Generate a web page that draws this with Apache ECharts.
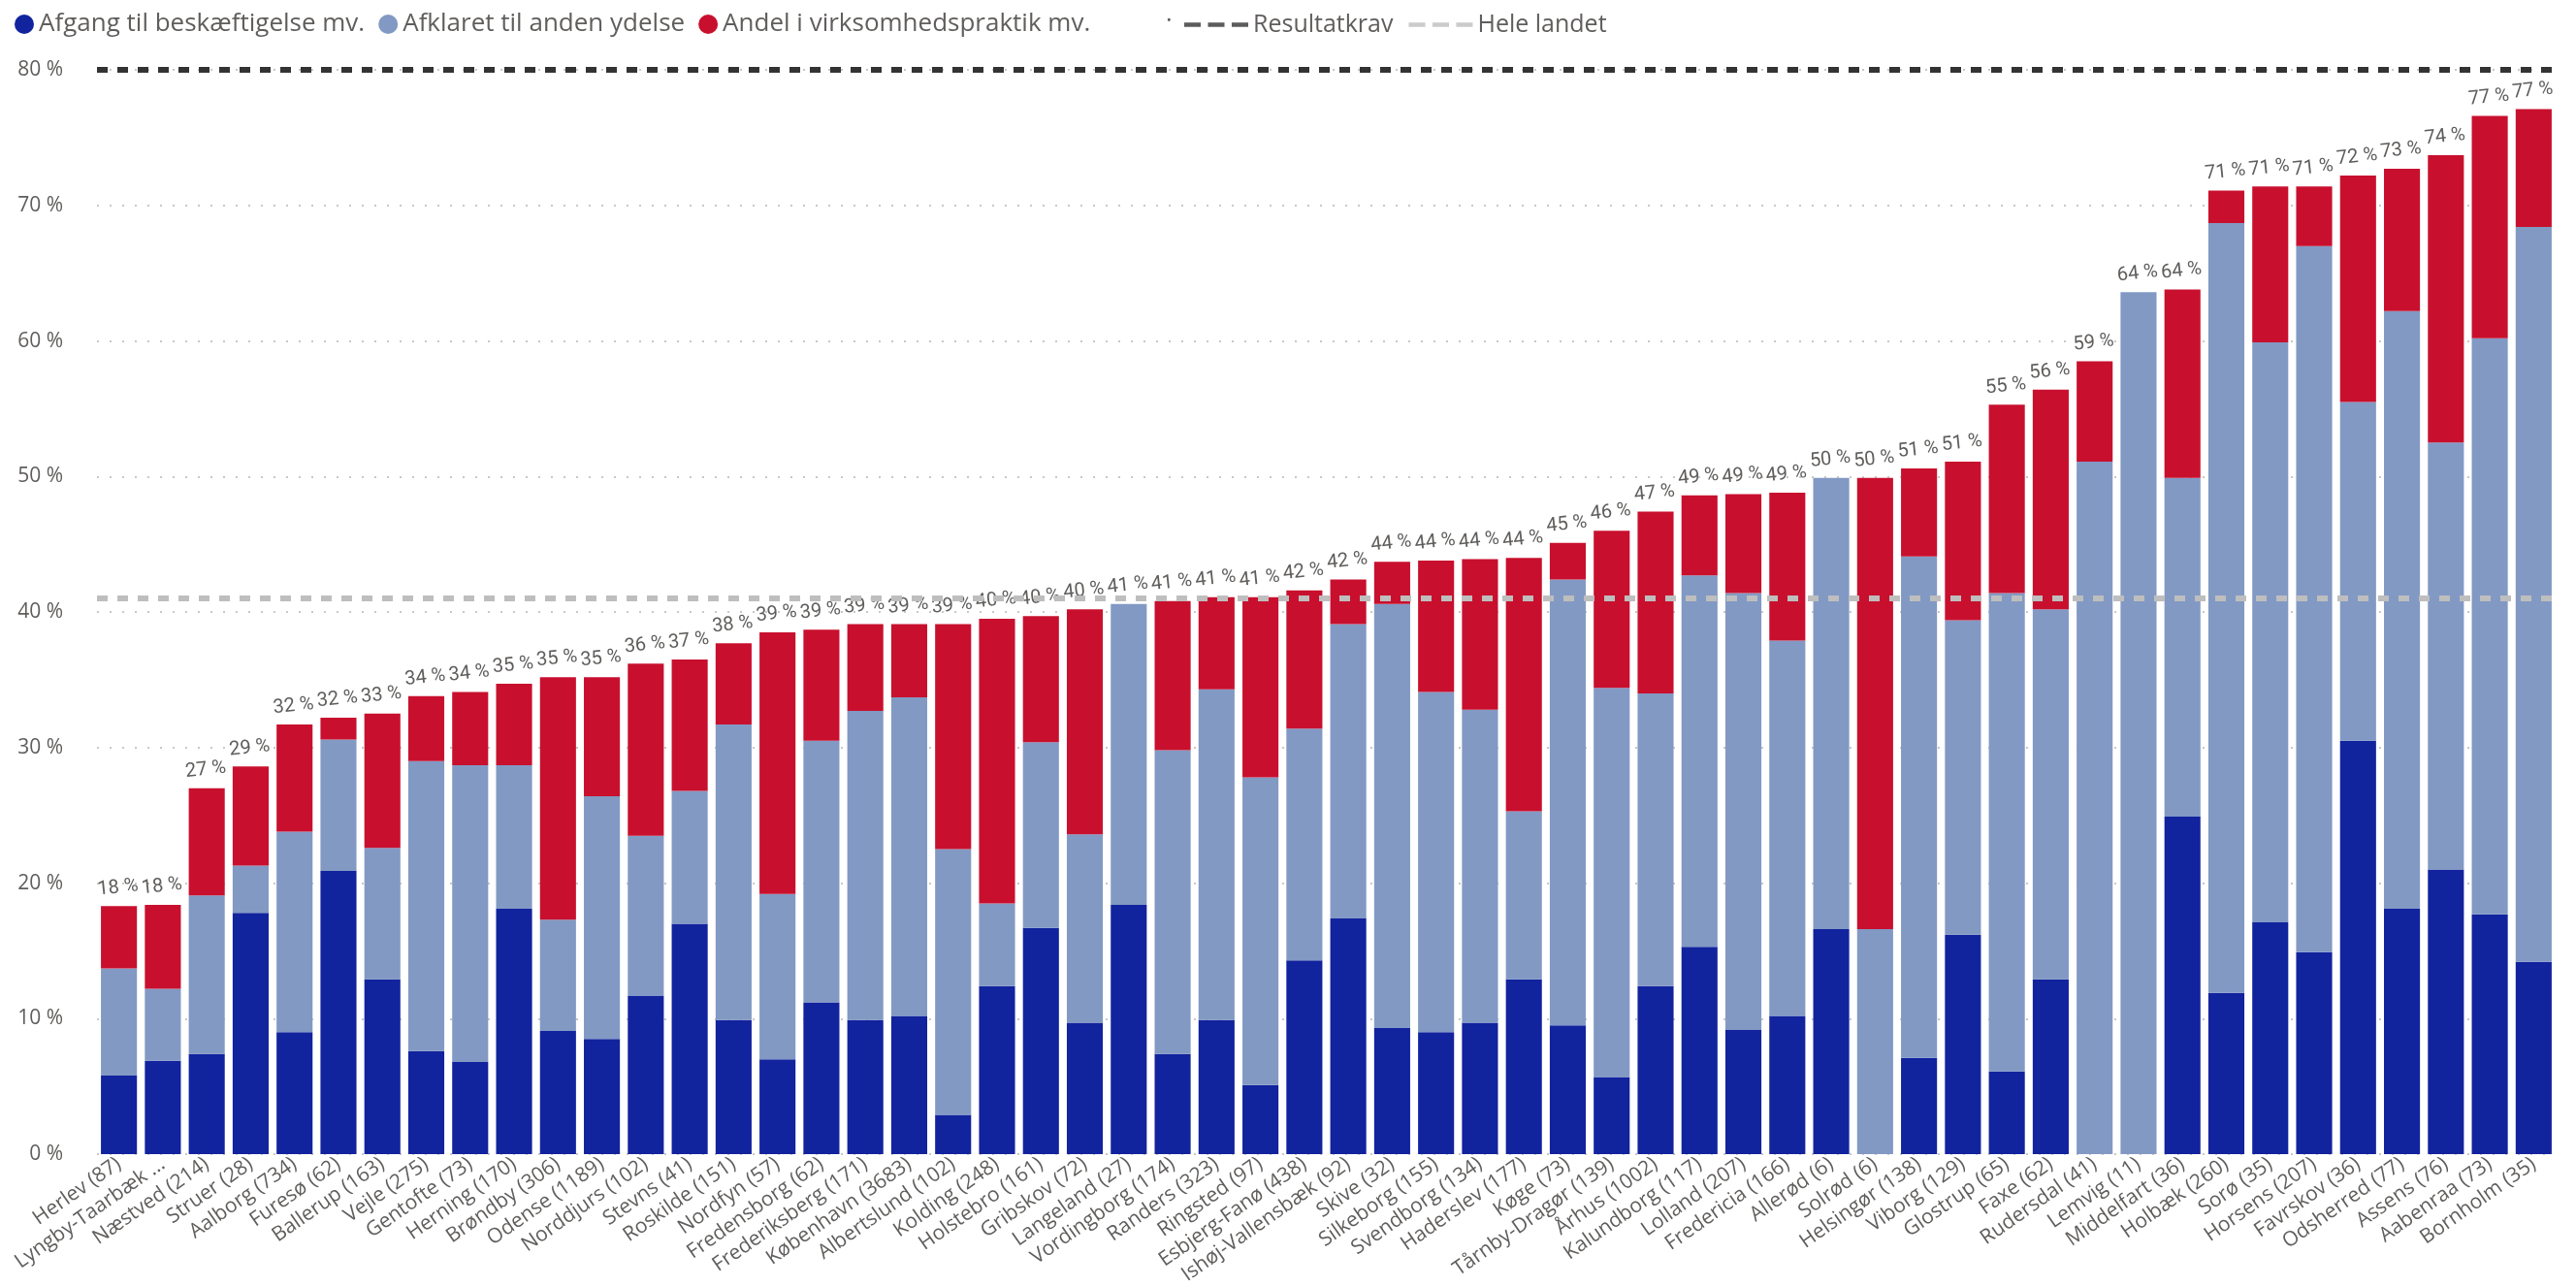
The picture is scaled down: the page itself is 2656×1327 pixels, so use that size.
<!DOCTYPE html>
<html>
<head>
<meta charset="utf-8">
<script src="https://cdn.jsdelivr.net/npm/echarts@6/dist/echarts.min.js"></script>
<style>
  html, body { margin: 0; padding: 0; background: #fff; }
  #chart { width: 2656px; height: 1327px; }
</style>
</head>
<body>
<div id="chart"></div>
<script>
const categories = [
  'Herlev (87)', 'Lyngby-Taarbæk ...', 'Næstved (214)', 'Struer (28)', 'Aalborg (734)',
  'Furesø (62)', 'Ballerup (163)', 'Vejle (275)', 'Gentofte (73)', 'Herning (170)',
  'Brøndby (306)', 'Odense (1189)', 'Norddjurs (102)', 'Stevns (41)', 'Roskilde (151)',
  'Nordfyn (57)', 'Fredensborg (62)', 'Frederiksberg (171)', 'København (3683)', 'Albertslund (102)',
  'Kolding (248)', 'Holstebro (161)', 'Gribskov (72)', 'Langeland (27)', 'Vordingborg (174)',
  'Randers (323)', 'Ringsted (97)', 'Esbjerg-Fanø (438)', 'Ishøj-Vallensbæk (92)', 'Skive (32)',
  'Silkeborg (155)', 'Svendborg (134)', 'Haderslev (177)', 'Køge (73)', 'Tårnby-Dragør (139)',
  'Århus (1002)', 'Kalundborg (117)', 'Lolland (207)', 'Fredericia (166)', 'Allerød (6)',
  'Solrød (6)', 'Helsingør (138)', 'Viborg (129)', 'Glostrup (65)', 'Faxe (62)',
  'Rudersdal (41)', 'Lemvig (11)', 'Middelfart (36)', 'Holbæk (260)', 'Sorø (35)',
  'Horsens (207)', 'Favrskov (36)', 'Odsherred (77)', 'Assens (76)', 'Aabenraa (73)',
  'Bornholm (35)'
]

// segment heights in percent
const afgang = [
  5.8, 6.9, 7.4, 17.8, 9.0, 20.9, 12.9, 7.6, 6.8, 18.1,
  9.1, 8.5, 11.7, 17.0, 9.9, 7.0, 11.2, 9.9, 10.2, 2.9,
  12.4, 16.7, 9.7, 18.4, 7.4, 9.9, 5.1, 14.3, 17.4, 9.3,
  9.0, 9.7, 12.9, 9.5, 5.7, 12.4, 15.3, 9.2, 10.2, 16.6,
  0, 7.1, 16.2, 6.1, 12.9, 0, 0, 24.9, 11.9, 17.1,
  14.9, 30.5, 18.1, 21.0, 17.7, 14.2
]
const afklaret = [
  7.9, 5.3, 11.7, 3.5, 14.8, 9.7, 9.7, 21.4, 21.9, 10.6,
  8.2, 17.9, 11.8, 9.8, 21.8, 12.2, 19.3, 22.8, 23.5, 19.6,
  6.1, 13.7, 13.9, 22.2, 22.4, 24.4, 22.7, 17.1, 21.7, 31.3,
  25.1, 23.1, 12.4, 32.9, 28.7, 21.6, 27.4, 32.2, 27.7, 33.3,
  16.6, 37.0, 23.2, 35.3, 27.3, 51.1, 63.6, 25.0, 56.8, 42.8,
  52.1, 25.0, 44.1, 31.5, 42.5, 54.2
]
const praktik = [
  4.6, 6.2, 7.9, 7.3, 7.9, 1.6, 9.9, 4.8, 5.4, 6.0,
  17.9, 8.8, 12.7, 9.7, 6.0, 19.3, 8.2, 6.4, 5.4, 16.6,
  21.0, 9.3, 16.6, 0, 11.0, 6.8, 13.3, 10.2, 3.3, 3.1,
  9.7, 11.1, 18.7, 2.7, 11.6, 13.4, 5.9, 7.3, 10.9, 0,
  33.3, 6.5, 11.7, 13.9, 16.2, 7.4, 0, 13.9, 2.4, 11.5,
  4.4, 16.7, 10.5, 21.2, 16.4, 8.7
]
const totalLabels = [
  18, 18, 27, 29, 32, 32, 33, 34, 34, 35,
  35, 35, 36, 37, 38, 39, 39, 39, 39, 39,
  40, 40, 40, 41, 41, 41, 41, 42, 42, 44,
  44, 44, 44, 45, 46, 47, 49, 49, 49, 50,
  50, 51, 51, 55, 56, 59, 64, 64, 71, 71,
  71, 72, 73, 74, 77, 77
]

const yMin = 0
const yMax = 80
const yStep = 10
const resultatkrav = 80
const heleLandet = 41

const textGray = '#605E5C'
const dashIcon = 'path://M0 0H16V4H0Z M23 0H39V4H23Z M46 0H62V4H46Z'

const chart = echarts.init(document.getElementById('chart'))

function refLine(name, value, color) {
  return {
    name,
    type: 'scatter',
    data: [],
    color,
    markLine: {
      silent: true,
      symbol: ['none', 'none'],
      label: { show: false },
      lineStyle: { color, width: 6, type: [11, 10], opacity: 1 },
      emphasis: { disabled: true },
      data: [{ yAxis: value }]
    }
  }
}

chart.setOption({
  animation: false,
  textStyle: { fontFamily: "'Open Sans', sans-serif" },
  legend: [
    {
      left: 10,
      top: 7,
      icon: 'circle',
      itemWidth: 20,
      itemHeight: 20,
      itemGap: 14,
      textStyle: { fontSize: 26, color: textGray },
      data: ['Afgang til beskæftigelse mv.', 'Afklaret til anden ydelse', 'Andel i virksomhedspraktik mv.']
    },
    {
      left: 1216,
      top: 8,
      itemWidth: 66,
      itemHeight: 5,
      itemGap: 16,
      textStyle: { fontSize: 25, color: textGray },
      data: [
        { name: 'Resultatkrav', icon: dashIcon },
        { name: 'Hele landet', icon: dashIcon }
      ]
    }
  ],
  graphic: [
    {
      type: 'text',
      left: 1202,
      top: 2,
      style: { text: '.', fontSize: 25, fill: textGray, fontFamily: "'Open Sans', sans-serif" }
    }
  ],
  grid: { left: 100, right: 21, top: 72, bottom: 134 },
  xAxis: {
    type: 'category',
    data: categories,
    axisLine: { show: false },
    axisTick: { show: false },
    axisLabel: {
      interval: 0,
      rotate: 35,
      margin: 8,
      fontSize: 21,
      color: textGray
    }
  },
  yAxis: {
    type: 'value',
    min: yMin,
    max: yMax,
    interval: yStep,
    axisLine: { show: false },
    axisTick: { show: false },
    axisLabel: {
      formatter: '{value} %',
      fontSize: 21,
      color: textGray,
      margin: 35
    },
    splitLine: {
      lineStyle: { type: [2, 11], width: 2, color: '#C8C8C8' }
    }
  },
  series: [
    {
      name: 'Afgang til beskæftigelse mv.',
      type: 'bar',
      stack: 'total',
      barCategoryGap: '18%',
      color: '#12239E',
      data: afgang
    },
    {
      name: 'Afklaret til anden ydelse',
      type: 'bar',
      stack: 'total',
      color: '#8299C4',
      data: afklaret
    },
    {
      name: 'Andel i virksomhedspraktik mv.',
      type: 'bar',
      stack: 'total',
      color: '#C8102E',
      data: praktik,
      label: {
        show: true,
        position: 'top',
        distance: 9,
        rotate: 6,
        fontFamily: 'Roboto, sans-serif',
        fontSize: 20,
        color: textGray,
        formatter: (p) => totalLabels[p.dataIndex] + ' %'
      }
    },
    refLine('Resultatkrav', resultatkrav, '#333333'),
    refLine('Hele landet', heleLandet, '#BEBEBE')
  ]
})
</script>
</body>
</html>
